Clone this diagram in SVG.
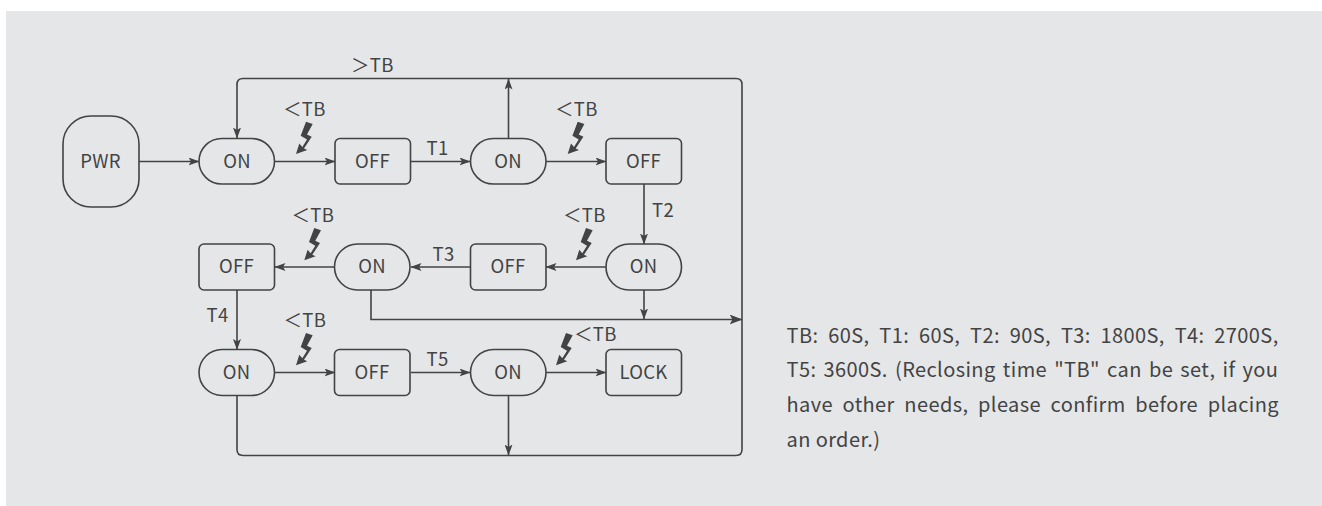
<svg xmlns="http://www.w3.org/2000/svg" width="1322" height="506" viewBox="0 0 1322 506">
<style>
.n{fill:none;stroke:#434343;stroke-width:1.6}
.c{fill:none;stroke:#434343;stroke-width:1.6}
.a{fill:#434343;stroke:none}
text{font-family:"Noto Sans CJK SC","Noto Sans",sans-serif;font-size:18.500px;letter-spacing:.3px;fill:#434343}
.m{text-anchor:middle}
.p{font-size:20px;letter-spacing:.4px}
</style>
<defs>
<marker id="ah" viewBox="0 0 11 8" markerWidth="11" markerHeight="8" refX="10.500" refY="4" orient="auto" markerUnits="userSpaceOnUse"><path d="M0 0L11 4L0 8L2.500 4Z" class="a"/></marker>
<marker id="ab" viewBox="0 0 13 10" markerWidth="13" markerHeight="10" refX="12.500" refY="5" orient="auto" markerUnits="userSpaceOnUse"><path d="M0 0L13 5L0 10L3 5Z" class="a"/></marker>
<path id="bolt" d="M10 0L16.700 2.300L11 12.700L15.700 15L8 26.700L11.300 28.300L0 32.300L3.300 21.700L6.300 25.300L11 17.700L4.700 14Z" class="a"/>
</defs>
<rect x="6" y="11" width="1316" height="495" fill="#e5e6e8"/>
<g id="connectors">
<path class="c" marker-end="url(#ah)" d="M139 161.500H199"/>
<path class="c" marker-end="url(#ah)" d="M275 161.500H335"/>
<path class="c" marker-end="url(#ah)" d="M411 161.500H470"/>
<path class="c" marker-end="url(#ah)" d="M546 161.500H606"/>
<path class="c" marker-end="url(#ah)" d="M508.500 138V79"/>
<path class="c" marker-end="url(#ah)" d="M644 184V244"/>
<path class="c" marker-end="url(#ah)" d="M606 267H546"/>
<path class="c" marker-end="url(#ah)" d="M470 267H411"/>
<path class="c" marker-end="url(#ah)" d="M334 267H275"/>
<path class="c" marker-end="url(#ah)" d="M237 290V349.500"/>
<path class="c" marker-end="url(#ah)" d="M644 290V319"/>
<path class="c" marker-end="url(#ab)" d="M371 290V319.500H742"/>
<path class="c" marker-end="url(#ah)" d="M275 372.500H335"/>
<path class="c" marker-end="url(#ah)" d="M411 372.500H470"/>
<path class="c" marker-end="url(#ah)" d="M546 372.500H606"/>
<path class="c" marker-end="url(#ah)" d="M508.500 395V455"/>
<path class="c" d="M237 395V449.500Q237 455.500 243 455.500H736Q742 455.500 742 449.500V84.500Q742 78.500 736 78.500H243Q237 78.500 237 84.500"/>
<path class="c" marker-end="url(#ah)" d="M237 84V138"/>
</g>
<g id="bolts">
<use href="#bolt" x="296" y="121.700"/>
<use href="#bolt" x="567.700" y="121.700"/>
<use href="#bolt" x="304.300" y="228"/>
<use href="#bolt" x="576" y="228"/>
<use href="#bolt" x="296" y="333"/>
<use href="#bolt" x="556" y="333"/>
</g>
<g id="pwr"><rect class="n" x="63" y="116" width="76" height="91" rx="28"/><text class="m" x="100.500" y="167.700">PWR</text></g>
<g id="on1"><rect class="n" x="199" y="138.500" width="75.500" height="45.500" rx="22.750"/><text class="m" x="237" y="167.700">ON</text></g>
<g id="off1"><rect class="n" x="335" y="138.500" width="75.500" height="45.500" rx="5"/><text class="m" x="372.500" y="167.700">OFF</text></g>
<g id="on2"><rect class="n" x="470.500" y="138.500" width="75.500" height="45.500" rx="22.750"/><text class="m" x="508" y="167.700">ON</text></g>
<g id="off2"><rect class="n" x="606" y="138.500" width="75.500" height="45.500" rx="5"/><text class="m" x="643.500" y="167.700">OFF</text></g>
<g id="on3"><rect class="n" x="606" y="244" width="75.500" height="46" rx="23"/><text class="m" x="643.500" y="273">ON</text></g>
<g id="off3"><rect class="n" x="470.500" y="244" width="75.500" height="46" rx="5"/><text class="m" x="508" y="273">OFF</text></g>
<g id="on4"><rect class="n" x="334.500" y="244" width="75.500" height="46" rx="23"/><text class="m" x="372" y="273">ON</text></g>
<g id="off4"><rect class="n" x="199" y="244" width="75.500" height="46" rx="5"/><text class="m" x="236.500" y="273">OFF</text></g>
<g id="on5"><rect class="n" x="199" y="349.500" width="75.500" height="46" rx="23"/><text class="m" x="236.500" y="379">ON</text></g>
<g id="off5"><rect class="n" x="334.500" y="349.500" width="75.500" height="46" rx="5"/><text class="m" x="372" y="379">OFF</text></g>
<g id="on6"><rect class="n" x="470.500" y="349.500" width="75.500" height="46" rx="23"/><text class="m" x="508" y="379">ON</text></g>
<g id="lock"><rect class="n" x="606" y="349.500" width="75.500" height="46" rx="5"/><text class="m" x="643.500" y="379">LOCK</text></g>
<g id="labels">
<text x="351" y="71.700">＞TB</text>
<text x="283" y="115.700">＜TB</text>
<text x="555" y="115.700">＜TB</text>
<text x="291.500" y="221.700">＜TB</text>
<text x="563" y="221.700">＜TB</text>
<text x="283.500" y="326.700">＜TB</text>
<text x="574" y="340.700">＜TB</text>
<text x="426.500" y="155">T1</text>
<text x="652" y="216.700">T2</text>
<text x="432.500" y="261">T3</text>
<text x="206.500" y="322">T4</text>
<text x="426.500" y="366">T5</text>
<text class="p" x="786.500" y="342.700" word-spacing="4.950">TB: 60S, T1: 60S, T2: 90S, T3: 1800S, T4: 2700S,</text>
<text class="p" x="786.500" y="377.300" word-spacing="2.300">T5: 3600S. (Reclosing time "TB" can be set, if you</text>
<text class="p" x="786.500" y="412" word-spacing="4.700">have other needs, please confirm before placing</text>
<text class="p" x="786.500" y="446.700">an order.)</text>
</g>
</svg>
